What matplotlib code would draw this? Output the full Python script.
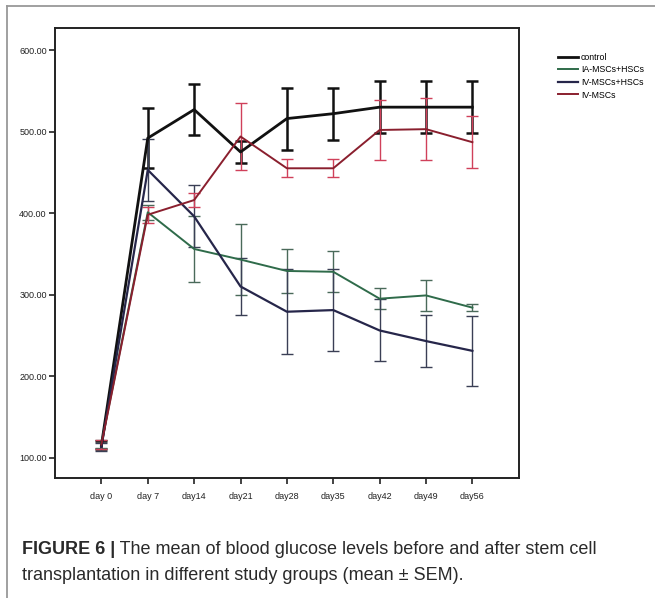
import numpy as np
import matplotlib.pyplot as plt

plt.rcParams['font.family'] = ['Liberation Sans', 'DejaVu Sans']

days = ["day 0", "day 7", "day14", "day21", "day28", "day35", "day42", "day49", "day56"]

control = [115, 492, 527, 475, 516, 522, 530, 530, 530]
control_err = [5, 37, 31, 13, 38, 32, 32, 32, 32]

ia_mscs_hscs = [117, 401, 356, 343, 329, 328, 295, 299, 284]
ia_mscs_hscs_err = [5, 9, 41, 44, 27, 25, 13, 19, 4]

iv_mscs_hscs = [113, 453, 396, 310, 279, 281, 256, 243, 231]
iv_mscs_hscs_err = [5, 38, 38, 35, 52, 50, 38, 32, 43]

iv_mscs = [116, 398, 416, 494, 455, 455, 502, 503, 487]
iv_mscs_err = [5, 10, 9, 41, 11, 11, 37, 38, 32]

series = [
    ("control", control, control_err, "#111111", "#111111", 2.0),
    ("IA-MSCs+HSCs", ia_mscs_hscs, ia_mscs_hscs_err, "#2f6b4a", "#4a6a5a", 1.4),
    ("IV-MSCs+HSCs", iv_mscs_hscs, iv_mscs_hscs_err, "#26264a", "#3a3f55", 1.6),
    ("IV-MSCs", iv_mscs, iv_mscs_err, "#8a1f2e", "#d0405a", 1.4),
]

fig = plt.figure(figsize=(6.55, 5.98), dpi=100)
ax = fig.add_axes([0.084, 0.2007, 0.708, 0.7523])

x = np.arange(len(days))
for name, vals, err, col, ecol, lw in series:
    ax.errorbar(x, vals, yerr=err, fmt="none", ecolor=ecol, elinewidth=1.0 if name != "control" else 1.8,
                capsize=4, capthick=1.0 if name != "control" else 1.8, zorder=2)
for name, vals, err, col, ecol, lw in series:
    ax.plot(x, vals, color=col, lw=lw, label=name, zorder=3)

ax.set_xlim(-1, 9)
ax.set_ylim(75, 627)
ax.set_xticks(x)
ax.set_xticklabels(days, fontsize=6.5, color="#222222")
ax.set_yticks([100, 200, 300, 400, 500, 600])
ax.set_yticklabels(["100.00", "200.00", "300.00", "400.00", "500.00", "600.00"], fontsize=6.5, color="#222222")
ax.tick_params(axis="both", direction="out", length=4, width=1.2, color="#222222", pad=2)
ax.tick_params(axis="x", pad=6)
for s in ax.spines.values():
    s.set_linewidth(1.4)
    s.set_color("#222222")

ax.legend(loc="upper left", bbox_to_anchor=(558 / 655, 1 - 53 / 598), bbox_transform=fig.transFigure,
          frameon=False, fontsize=6.3, handlelength=2.3, handletextpad=0.3, labelspacing=0.4,
          borderpad=0, borderaxespad=0)

# outer frame lines (left and top)
fig.add_artist(plt.Line2D([7 / 655, 7 / 655], [0, 1 - 6 / 598], transform=fig.transFigure, color="#999999", lw=1.3))
fig.add_artist(plt.Line2D([7 / 655, 1], [1 - 6 / 598, 1 - 6 / 598], transform=fig.transFigure, color="#999999", lw=1.3))

# caption
t = fig.text(22 / 655, 1 - 550 / 598, "FIGURE 6 |", fontsize=13, fontweight="bold", color="#2a2a2a", va="center")
ax.annotate(" The mean of blood glucose levels before and after stem cell", xy=(1, 0.5), xycoords=t,
            va="center", ha="left", fontsize=13, color="#2a2a2a", annotation_clip=False)
fig.text(22 / 655, 1 - 575 / 598, "transplantation in different study groups (mean \u00b1 SEM).",
         fontsize=13, color="#2a2a2a", va="center")

fig.savefig("out.png", dpi=100)
